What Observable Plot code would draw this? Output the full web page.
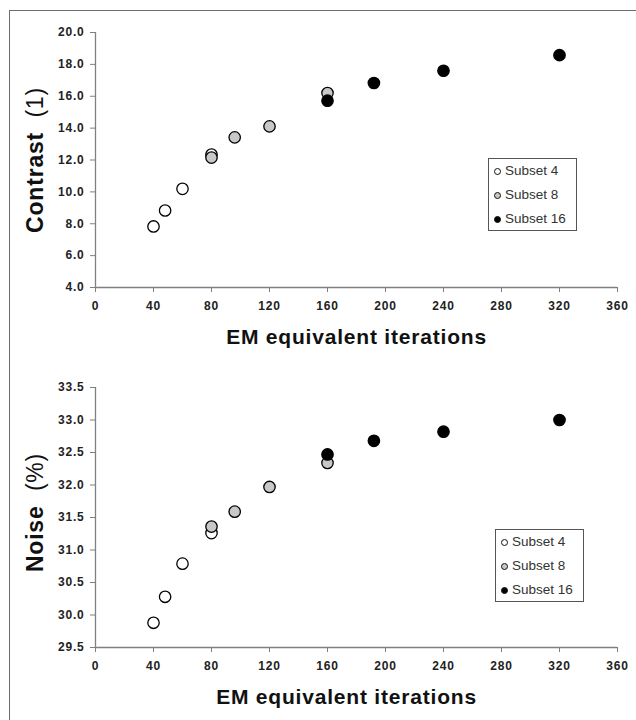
<!DOCTYPE html>
<html>
<head>
<meta charset="utf-8">
<script src="https://cdn.jsdelivr.net/npm/d3@7"></script>
<script src="https://cdn.jsdelivr.net/npm/@observablehq/plot@0.6"></script>
<style>
  html, body { margin: 0; padding: 0; background: #fff; }
  #wrap { position: relative; width: 636px; height: 720px; overflow: hidden; font-family: "Liberation Sans", Arial, sans-serif; }
  #frame { position: absolute; left: 9px; top: 10px; width: 640px; height: 720px; border-left: 1.5px solid #6e6e6e; border-top: 1.5px solid #6e6e6e; }
  .panel { position: absolute; left: 0; }
  .panel svg { overflow: visible; }
  .panel svg text { letter-spacing: 0.8px; }
  .legend { position: absolute; border: 1.5px solid #555; background: #fff; box-sizing: border-box; font-size: 13.5px; color: #333; }
  .legend .row { position: absolute; left: 0; height: 16px; line-height: 16px; white-space: nowrap; }
  .legend .dot { position: absolute; width: 7px; height: 7px; border-radius: 50%; border: 1.2px solid #111; box-sizing: border-box; top: 4.5px; }
  .legend .lbl { position: absolute; }
</style>
</head>
<body>
<div id="wrap"><div id="frame"></div></div>
<script>
// ---- data ----
const seriesNames = ["Subset 4", "Subset 8", "Subset 16"];
const seriesFills = ["#ffffff", "#c8c8c8", "#000000"];

const iterations4 = [40, 48, 60, 80];
const iterations8 = [80, 96, 120, 160];
const iterations16 = [160, 192, 240, 320];

const contrast4 = [7.83, 8.83, 10.19, 12.34];
const contrast8 = [12.15, 13.42, 14.11, 16.2];
const contrast16 = [15.72, 16.83, 17.6, 18.58];

const noise4 = [29.88, 30.28, 30.79, 31.26];
const noise8 = [31.36, 31.59, 31.97, 32.34];
const noise16 = [32.47, 32.68, 32.82, 33.0];

const xTicks = [0, 40, 80, 120, 160, 200, 240, 280, 320, 360];
const contrastTicks = [4, 6, 8, 10, 12, 14, 16, 18, 20];
const noiseTicks = [29.5, 30, 30.5, 31, 31.5, 32, 32.5, 33, 33.5];

const xTitle = "EM equivalent iterations";

function rows(xs, ys, s) { return xs.map((x, i) => ({x, y: ys[i], s})); }

function makePanel({data, yDomain, yTicks, yTitleMain, yTitleUnit, top, height, marginTop, marginBottom, titleDx, yTitleDy, legendBox}) {
  const svg = Plot.plot({
    width: 636, height, marginLeft: 95, marginRight: 19, marginTop, marginBottom,
    style: {fontFamily: "'Liberation Sans', Arial, sans-serif", fontSize: "12px", fontWeight: "bold", background: "transparent", overflow: "visible"},
    x: {domain: [0, 360]},
    y: {domain: yDomain},
    marks: [
      Plot.ruleY([yDomain[0]], {stroke: "#808080", strokeWidth: 1.3}),
      Plot.ruleX([0], {stroke: "#808080", strokeWidth: 1.3}),
      Plot.axisX({ticks: xTicks, tickSize: 5, tickPadding: 9, tickFormat: d => String(d), label: null, stroke: "#808080", fill: "#222"}),
      Plot.axisY({ticks: yTicks, tickSize: 5, tickPadding: 6, tickFormat: d => d.toFixed(1), label: null, stroke: "#808080", fill: "#222"}),
      Plot.dot(data, {x: "x", y: "y", fill: d => d.s, r: 5.7, stroke: "#000", strokeWidth: 1.3}),
      Plot.text([xTitle], {frameAnchor: "bottom", lineAnchor: "middle", textAnchor: "middle", dy: 50, dx: titleDx, fontSize: 21, fontWeight: "bold", fill: "#111"}),
      Plot.text([yTitleMain], {frameAnchor: "left", lineAnchor: "middle", textAnchor: "middle", dx: -60, dy: yTitleDy, rotate: -90, fontSize: 23, fontWeight: "bold", fill: "#111", className: "ytitle"})
    ]
  });
  // Bold name + regular unit in the y title
  d3.select(svg).selectAll(".ytitle text").each(function() {
    const t = d3.select(this);
    t.text(null);
    t.append("tspan").attr("font-weight", "bold").text(yTitleMain);
    t.append("tspan").attr("font-weight", "normal").text("\u00a0\u00a0" + yTitleUnit);
  });
  const div = document.createElement("div");
  div.className = "panel";
  div.style.top = top + "px";
  div.appendChild(svg);
  document.getElementById("wrap").appendChild(div);

  // legend
  const lg = document.createElement("div");
  lg.className = "legend";
  lg.style.left = legendBox.left + "px";
  lg.style.top = legendBox.top + "px";
  lg.style.width = legendBox.w + "px";
  lg.style.height = legendBox.h + "px";
  seriesNames.forEach((name, i) => {
    const r = document.createElement("div");
    r.className = "row";
    r.style.top = (legendBox.firstRow + i * legendBox.step - 8) + "px";
    const dot = document.createElement("div");
    dot.className = "dot";
    dot.style.left = legendBox.dotX + "px";
    dot.style.background = seriesFills[i];
    const lbl = document.createElement("span");
    lbl.className = "lbl";
    lbl.style.left = legendBox.textX + "px";
    lbl.textContent = name;
    r.appendChild(dot); r.appendChild(lbl);
    lg.appendChild(r);
  });
  document.getElementById("wrap").appendChild(lg);
}

const toRows = (a, b, c) => [
  ...rows(iterations4, a, seriesFills[0]),
  ...rows(iterations8, b, seriesFills[1]),
  ...rows(iterations16, c, seriesFills[2])
];

makePanel({
  data: toRows(contrast4, contrast8, contrast16), yDomain: [4, 20], yTicks: contrastTicks,
  yTitleMain: "Contrast", yTitleUnit: "(1)",
  top: 0, height: 360, marginTop: 32, marginBottom: 73, titleDx: 0, yTitleDy: 0,
  legendBox: {left: 488, top: 158, w: 89, h: 73, firstRow: 12, step: 24, dotX: 5, textX: 16}
});

makePanel({
  data: toRows(noise4, noise8, noise16), yDomain: [29.5, 33.5], yTicks: noiseTicks,
  yTitleMain: "Noise", yTitleUnit: "(%)",
  top: 360, height: 360, marginTop: 27, marginBottom: 73, titleDx: -10, yTitleDy: -5,
  legendBox: {left: 495, top: 529, w: 89, h: 73, firstRow: 12, step: 24, dotX: 5, textX: 16}
});
</script>
</body>
</html>
